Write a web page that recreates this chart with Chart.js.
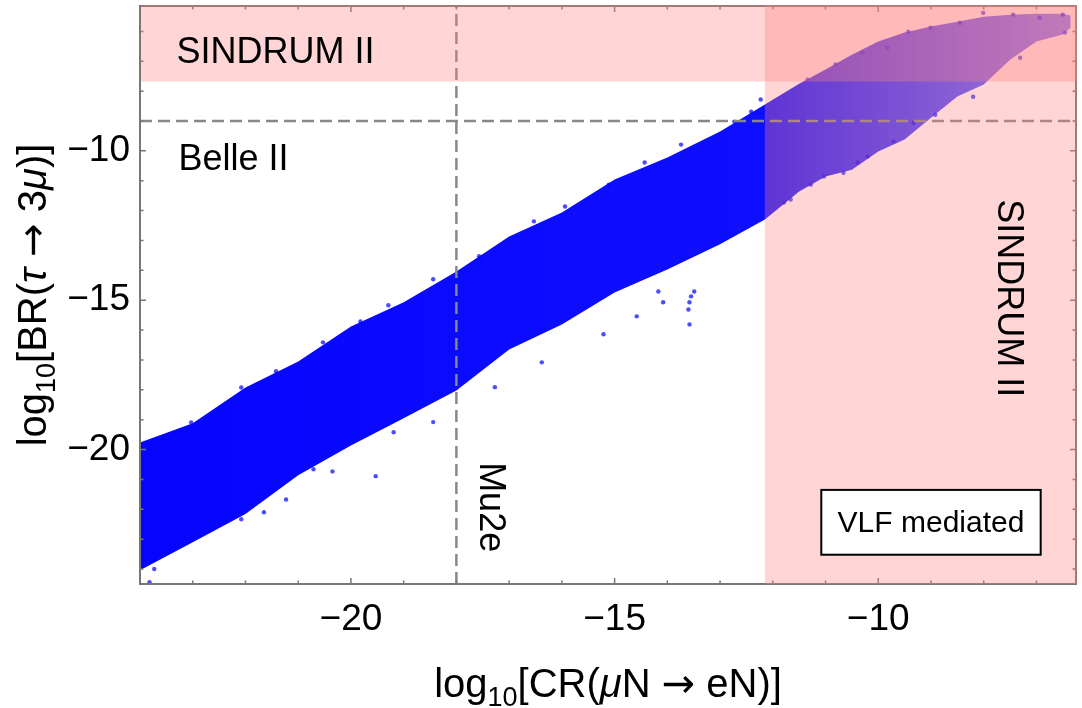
<!DOCTYPE html>
<html>
<head>
<meta charset="utf-8">
<script src="https://cdn.jsdelivr.net/npm/chart.js@4.4.1/dist/chart.umd.min.js"></script>
<style>
  html, body { margin: 0; padding: 0; background: #fff; }
</style>
</head>
<body>
<canvas id="cvs" width="1082" height="708"></canvas>
<script>
// outline of the scan cloud: log10 CR(muN -> eN) and the upper / lower edge in log10 BR(tau -> 3mu)
const bandX     = [-24, -23, -22, -21, -20, -19, -18, -17, -16, -15, -14, -13, -12.15, -11.5, -11, -10.5, -10, -9.5, -9, -8.5, -8, -7.5, -7, -6.5, -6.35]
const bandUpper = [-19.76, -19.12, -17.92, -17.05, -15.88, -15.07, -14.04, -12.87, -12.06, -10.96, -10.22, -9.35, -8.45, -7.75, -7.28, -6.78, -6.34, -6.04, -5.84, -5.68, -5.51, -5.44, -5.41, -5.41, -5.47]
const bandLower = [-24.04, -23.1, -22.16, -20.86, -19.86, -18.95, -18.02, -16.65, -15.81, -14.74, -13.97, -13.13, -12.30, -11.36, -10.86, -10.63, -10.02, -9.62, -8.89, -8.18, -7.78, -6.95, -6.34, -6.10, -5.88]

// loose points sitting around the edges of the cloud
const strayX = [-23.03, -22.08, -21.42, -20.53, -19.82, -19.29, -18.44, -17.57, -16.53, -15.94, -15.11, -14.43, -13.74, -12.73, -12.41,
  -23.82, -23.73, -23.16, -22.08, -21.65, -21.23, -20.71, -20.35, -19.53, -19.19, -18.44, -17.27, -16.38, -15.21, -14.58, -14.17, -14.08, -13.58, -13.55, -13.49, -13.60, -13.58,
  -12.23, -11.34, -10.81, -10.30, -9.83, -9.43, -9.01, -8.45, -8.01, -7.44, -6.94, -6.50, -6.46, -7.31, -8.20, -8.92, -9.33, -9.71, -10.20, -10.39, -10.66, -11.03, -11.28, -11.66, -11.79]
const strayY = [-19.09, -17.92, -17.38, -16.41, -15.71, -15.17, -14.30, -13.53, -12.36, -11.86, -11.13, -10.39, -9.79, -9.02, -8.69,
  -24.44, -24.0, -22.9, -22.33, -22.10, -21.67, -20.66, -20.73, -20.89, -19.42, -19.08, -17.91, -17.08, -16.14, -15.54, -14.71, -15.07, -15.07, -14.87, -14.71, -15.31, -15.81,
  -8.28, -7.62, -7.11, -6.71, -6.55, -6.01, -5.88, -5.71, -5.38, -5.44, -5.54, -5.44, -6.04, -6.88, -8.19, -8.79, -9.06, -9.69, -10.19, -10.39, -10.73, -10.86, -11.13, -11.63, -11.73]

const xTickLabels = [-20, -15, -10]
const yTickLabels = [-20, -15, -10]

// experimental limits (log10)
const sindrumCR = -12.15
const sindrumTau = -7.68
const belle2 = -9
const mu2e = -18

const FONT = "'Liberation Sans', Arial, Helvetica, sans-serif"
const ARROW_FONT = "'DejaVu Sans', sans-serif"
const minus = v => (v < 0 ? '\u2212' : '') + Math.abs(v)

function cloudFill(c) {
  const chart = c.chart
  if (!chart.chartArea) return 'rgba(0,0,255,0.95)'
  const sx = chart.scales.x
  const x0 = sx.getPixelForValue(bandX[0])
  const x1 = sx.getPixelForValue(bandX[bandX.length - 1])
  const cut = (sindrumCR - bandX[0]) / (bandX[bandX.length - 1] - bandX[0])
  const g = chart.ctx.createLinearGradient(x0, 0, x1, 0)
  g.addColorStop(0, 'rgba(0,0,255,0.98)')
  g.addColorStop(cut, 'rgba(0,0,255,0.94)')
  g.addColorStop(cut + 0.12, 'rgba(0,0,255,0.8)')
  g.addColorStop(1, 'rgba(0,0,255,0.55)')
  return g
}

// text made of pieces: subscripts, italics, and an arrow from a font that draws it full size
function partFont(p, size) {
  return (p.it ? 'italic ' : '') + Math.round(p.sub ? size * 0.68 : size) + 'px ' + (p.arrow ? ARROW_FONT : FONT)
}
function richWidth(ctx, parts, size) {
  let w = 0
  for (const p of parts) {
    ctx.font = partFont(p, size)
    w += ctx.measureText(p.t).width
  }
  return w
}
function richText(ctx, parts, size, x0) {
  let x = x0
  for (const p of parts) {
    ctx.font = partFont(p, size)
    ctx.fillText(p.t, x, p.sub ? size * 0.22 : 0)
    x += ctx.measureText(p.t).width
  }
}

const xTitle = [{t: 'log'}, {t: '10', sub: true}, {t: '[CR('}, {t: '\u03bc', it: true}, {t: 'N '}, {t: '\u2192', arrow: true}, {t: ' eN)]'}]
const yTitle = [{t: 'log'}, {t: '10', sub: true}, {t: '[BR('}, {t: '\u03c4', it: true}, {t: ' '}, {t: '\u2192', arrow: true}, {t: ' 3'}, {t: '\u03bc', it: true}, {t: ')]'}]

const decor = {
  id: 'decor',
  afterDatasetsDraw(chart) {
    const {ctx, chartArea: a} = chart
    const x = chart.scales.x, y = chart.scales.y

    // dashed sensitivity lines
    ctx.save()
    ctx.beginPath()
    ctx.rect(a.left, a.top, a.right - a.left, a.bottom - a.top)
    ctx.clip()
    ctx.strokeStyle = '#888'
    ctx.lineWidth = 2.5
    ctx.setLineDash([12, 6])
    ctx.beginPath()
    const yb = y.getPixelForValue(belle2)
    ctx.moveTo(a.left, yb); ctx.lineTo(a.right, yb)
    ctx.stroke()
    ctx.beginPath()
    const xm = x.getPixelForValue(mu2e)
    ctx.moveTo(xm, a.bottom); ctx.lineTo(xm, a.top)
    ctx.stroke()
    ctx.restore()

    // frame with inward ticks
    ctx.save()
    ctx.strokeStyle = '#777'
    ctx.lineWidth = 2
    ctx.strokeRect(a.left, a.top, a.right - a.left, a.bottom - a.top)
    ctx.lineWidth = 1.5
    ctx.beginPath()
    for (let v = Math.ceil(x.min); v <= x.max; v++) {
      const len = v % 5 === 0 ? 6 : 3.5
      const px = x.getPixelForValue(v)
      ctx.moveTo(px, a.bottom); ctx.lineTo(px, a.bottom - len)
      ctx.moveTo(px, a.top); ctx.lineTo(px, a.top + len)
    }
    for (let v = Math.ceil(y.min); v <= y.max; v++) {
      const len = v % 5 === 0 ? 6 : 3.5
      const py = y.getPixelForValue(v)
      ctx.moveTo(a.left, py); ctx.lineTo(a.left + len, py)
      ctx.moveTo(a.right, py); ctx.lineTo(a.right - len, py)
    }
    ctx.stroke()
    ctx.restore()

    // excluded regions, laid over the points
    ctx.save()
    ctx.fillStyle = 'rgba(255,128,128,0.33)'
    const ys = y.getPixelForValue(sindrumTau)
    ctx.fillRect(a.left + 1, a.top - 1, a.right - a.left, ys - a.top + 1)
    const xs = x.getPixelForValue(sindrumCR)
    ctx.fillRect(xs, a.top - 1, a.right - xs + 1, a.bottom - a.top + 1)
    ctx.restore()

    // labels
    ctx.save()
    ctx.fillStyle = '#000'
    ctx.textBaseline = 'alphabetic'
    ctx.textAlign = 'left'
    ctx.font = '36px ' + FONT
    ctx.fillText('SINDRUM II', x.getPixelForValue(-23.31), y.getPixelForValue(-7.05))
    ctx.fillText('Belle II', x.getPixelForValue(-23.27), y.getPixelForValue(-10.63))

    ctx.save()
    ctx.translate(x.getPixelForValue(-17.55), y.getPixelForValue(-20.42))
    ctx.rotate(Math.PI / 2)
    ctx.fillText('Mu2e', 0, 0)
    ctx.restore()

    ctx.save()
    ctx.translate(x.getPixelForValue(-7.73), y.getPixelForValue(-11.62))
    ctx.rotate(Math.PI / 2)
    ctx.fillText('SINDRUM II', 0, 0)
    ctx.restore()

    const bx0 = x.getPixelForValue(-11.08), bx1 = x.getPixelForValue(-6.92)
    const by0 = y.getPixelForValue(-21.35), by1 = y.getPixelForValue(-23.52)
    ctx.fillStyle = '#fff'
    ctx.fillRect(bx0, by0, bx1 - bx0, by1 - by0)
    ctx.strokeStyle = '#000'
    ctx.lineWidth = 2
    ctx.strokeRect(bx0, by0, bx1 - bx0, by1 - by0)
    ctx.fillStyle = '#000'
    ctx.font = '30px ' + FONT
    ctx.textAlign = 'center'
    ctx.textBaseline = 'middle'
    ctx.fillText('VLF mediated', (bx0 + bx1) / 2, (by0 + by1) / 2 + 1)
    ctx.restore()
  },
  afterDraw(chart) {
    const {ctx, chartArea: a} = chart
    const size = 40
    ctx.save()
    ctx.fillStyle = '#000'
    ctx.textBaseline = 'alphabetic'
    ctx.textAlign = 'left'
    let w = richWidth(ctx, xTitle, size)
    ctx.translate((a.left + a.right) / 2, a.bottom + 113)
    richText(ctx, xTitle, size, -w / 2)
    ctx.restore()

    ctx.save()
    ctx.fillStyle = '#000'
    ctx.textBaseline = 'alphabetic'
    ctx.textAlign = 'left'
    w = richWidth(ctx, yTitle, size)
    ctx.translate(a.left - 94, (a.top + a.bottom) / 2)
    ctx.rotate(-Math.PI / 2)
    richText(ctx, yTitle, size, -w / 2)
    ctx.restore()
  }
}

const tickFont = {family: FONT, size: 37}

new Chart(document.getElementById('cvs').getContext('2d'), {
  type: 'line',
  data: {
    datasets: [
      {
        label: 'cloud top',
        data: bandX.map((v, i) => ({x: v, y: bandUpper[i]})),
        borderColor: 'rgba(0,0,0,0)',
        borderWidth: 0,
        pointRadius: 0,
        fill: '+1',
        backgroundColor: cloudFill
      },
      {
        label: 'cloud bottom',
        data: bandX.map((v, i) => ({x: v, y: bandLower[i]})),
        borderColor: 'rgba(0,0,0,0)',
        borderWidth: 0,
        pointRadius: 0,
        fill: false
      },
      {
        label: 'edge points',
        data: strayX.map((v, i) => ({x: v, y: strayY[i]})),
        showLine: false,
        pointRadius: 2.2,
        pointBorderWidth: 0,
        pointBackgroundColor: 'rgba(0,0,255,0.7)'
      }
    ]
  },
  options: {
    responsive: false,
    animation: false,
    events: [],
    layout: {padding: {top: 6, right: 6, left: 0, bottom: 0}},
    plugins: {legend: {display: false}, tooltip: {enabled: false}},
    scales: {
      x: {
        type: 'linear',
        position: 'bottom',
        min: -24,
        max: -6.25,
        grid: {display: false, drawTicks: false},
        border: {display: false},
        afterBuildTicks: s => { s.ticks = xTickLabels.map(v => ({value: v})) },
        afterFit: s => { s.height = 124; s.paddingLeft = 0; s.paddingRight = 0 },
        ticks: {font: tickFont, color: '#000', padding: 14, maxRotation: 0, autoSkip: false, callback: minus}
      },
      y: {
        type: 'linear',
        position: 'left',
        min: -24.5,
        max: -5.15,
        grid: {display: false, drawTicks: false},
        border: {display: false},
        afterBuildTicks: s => { s.ticks = yTickLabels.map(v => ({value: v})) },
        afterFit: s => { s.width = 140; s.paddingTop = 0; s.paddingBottom = 0 },
        ticks: {font: tickFont, color: '#000', padding: 10, autoSkip: false, callback: minus}
      }
    }
  },
  plugins: [decor]
})
</script>
</body>
</html>
